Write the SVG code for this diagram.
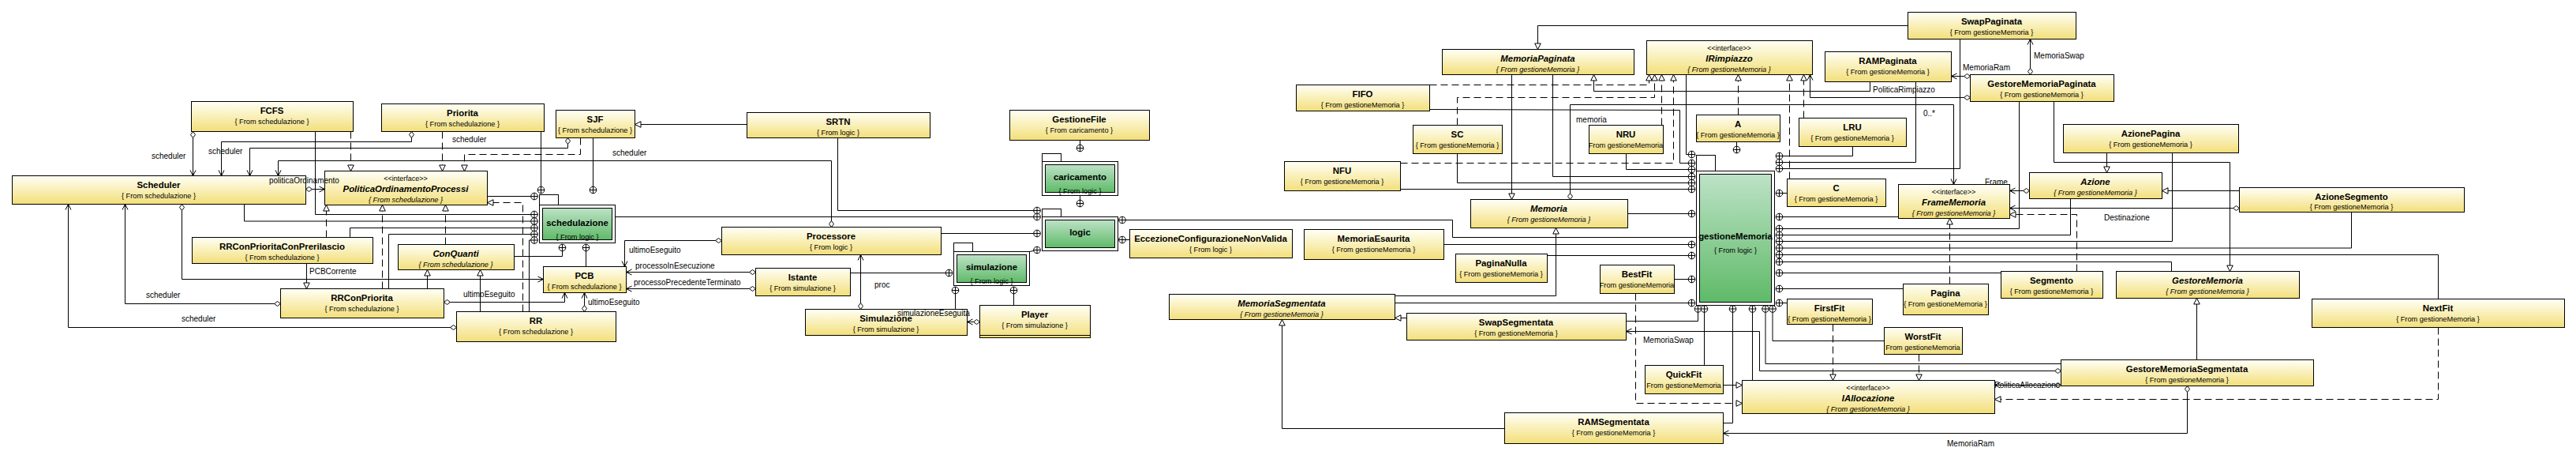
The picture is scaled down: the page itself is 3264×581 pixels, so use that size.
<svg xmlns="http://www.w3.org/2000/svg" width="3264" height="581" viewBox="0 0 3264 581">
<style>
.b{fill:url(#yg);stroke:#000;stroke-width:1}
.pw{fill:#fff;stroke:#000;stroke-width:1}
.pg{fill:url(#gg);stroke:#000;stroke-width:1}
.t{font-family:"Liberation Sans",Arial,sans-serif;font-size:11.4px;font-weight:bold;text-anchor:middle;fill:#000}
.i{font-style:italic}
.f{font-family:"Liberation Sans",Arial,sans-serif;font-size:9.2px;text-anchor:middle;fill:#000}
.st{font-family:"Liberation Sans",Arial,sans-serif;font-size:9px;text-anchor:middle;fill:#000}
.lb{font-family:"Liberation Sans",Arial,sans-serif;font-size:10px;fill:#000}
.c path{fill:none;stroke:#000;stroke-width:1}
.c path.d{stroke-dasharray:9 5}
</style>
<defs>
<linearGradient id="yg" x1="0" y1="0" x2="0" y2="1"><stop offset="0" stop-color="#fffff6"/><stop offset="1" stop-color="#f3df7a"/></linearGradient>
<linearGradient id="gg" x1="0" y1="0" x2="0" y2="1"><stop offset="0" stop-color="#bde2c6"/><stop offset="1" stop-color="#5fba68"/></linearGradient>
<marker id="ar" markerUnits="userSpaceOnUse" viewBox="0 0 10 10" markerWidth="10" markerHeight="10" refX="10" refY="5" orient="auto"><path d="M3,1.5 L10,5 L3,8.5" fill="none" stroke="#000" stroke-width="1" stroke-dasharray="none"/></marker>
<marker id="tr" markerUnits="userSpaceOnUse" viewBox="0 0 10 10" markerWidth="10" markerHeight="10" refX="10" refY="5" orient="auto"><path d="M2.5,1.2 L10,5 L2.5,8.8 Z" fill="#fff" stroke="#000" stroke-width="1" stroke-dasharray="none"/></marker>
<marker id="dm" markerUnits="userSpaceOnUse" viewBox="0 0 10 10" markerWidth="10" markerHeight="10" refX="0.5" refY="5" orient="auto"><path d="M0.5,5 L4.5,2 L8.5,5 L4.5,8 Z" fill="#fff" stroke="#000" stroke-width="1" stroke-dasharray="none"/></marker>
<g id="nest"><circle r="4.3" fill="#fff" stroke="#000" stroke-width="1"/><path d="M-4.3,0H4.3M0,-4.3V4.3" stroke="#000" stroke-width="1"/></g>
<clipPath id="k-nru"><rect x="2013" y="158" width="95" height="37"/></clipPath>
<clipPath id="k-bf"><rect x="2027" y="335" width="95" height="37"/></clipPath>
<clipPath id="k-qf"><rect x="2084" y="462" width="100" height="37"/></clipPath>
<clipPath id="k-wf"><rect x="2387" y="414" width="100" height="35"/></clipPath>
</defs>
<rect width="3264" height="581" fill="#fff"/>

<!-- packages -->
<g id="p-schedulazione"><rect class="pw" x="683.5" y="246.5" width="24" height="13"/><rect class="pw" x="683.5" y="259.5" width="96" height="48"/><rect class="pg" x="687.5" y="263.5" width="88" height="40"/><text class="t" x="731.5" y="286">schedulazione</text><text class="f" x="731.5" y="302.5">{ From logic }</text></g>
<g id="p-logic"><rect class="pw" x="1320.5" y="264.5" width="24" height="10"/><rect class="pw" x="1320.5" y="274.5" width="96" height="43"/><rect class="pg" x="1324.5" y="278.5" width="88" height="35"/><text class="t" x="1368.5" y="298">logic</text></g>
<g id="p-caricamento"><rect class="pw" x="1320.5" y="194.5" width="24" height="10"/><rect class="pw" x="1320.5" y="204.5" width="96" height="43"/><rect class="pg" x="1324.5" y="208.5" width="88" height="35"/><text class="t" x="1368.5" y="228">caricamento</text><text class="f" x="1368.5" y="245">{ From logic }</text></g>
<g id="p-simulazione"><rect class="pw" x="1208.5" y="307.5" width="24" height="11"/><rect class="pw" x="1208.5" y="318.5" width="96" height="43"/><rect class="pg" x="1212.5" y="322.5" width="88" height="35"/><text class="t" x="1256.5" y="342">simulazione</text><text class="f" x="1256.5" y="359">{ From logic }</text></g>
<g id="p-gestioneMemoria"><rect class="pw" x="2149.5" y="196.5" width="24" height="20"/><rect class="pw" x="2149.5" y="216.5" width="99" height="170"/><rect class="pg" x="2153.5" y="220.5" width="91" height="162"/><text class="t" x="2199" y="303">gestioneMemoria</text><text class="f" x="2199" y="320">{ From logic }</text></g>

<!-- class nodes -->
<g id="n-fcfs"><rect class="b" x="242.5" y="128.5" width="205" height="38"/><text class="t" x="344.5" y="144">FCFS</text><text class="f" x="344.5" y="157">{ From schedulazione }</text></g>
<g id="n-priorita"><rect class="b" x="483.5" y="131.5" width="206" height="35"/><text class="t" x="586" y="147">Priorita</text><text class="f" x="586" y="160">{ From schedulazione }</text></g>
<g id="n-sjf"><rect class="b" x="704.5" y="139.5" width="100" height="35"/><text class="t" x="754" y="155">SJF</text><text class="f" x="754" y="168">{ From schedulazione }</text></g>
<g id="n-srtn"><rect class="b" x="946.5" y="142.5" width="232" height="32"/><text class="t" x="1062" y="158">SRTN</text><text class="f" x="1062" y="171">{ From logic }</text></g>
<g id="n-scheduler"><rect class="b" x="15.5" y="222.5" width="372" height="36"/><text class="t" x="201" y="238">Scheduler</text><text class="f" x="201" y="251">{ From schedulazione }</text></g>
<g id="n-politica"><rect class="b" x="411.5" y="216.5" width="206" height="43"/><text class="st" x="514" y="229">&lt;&lt;interface&gt;&gt;</text><text class="t i" x="514" y="242.5">PoliticaOrdinamentoProcessi</text><text class="f i" x="514" y="255.5">{ From schedulazione }</text></g>
<g id="n-rrcpcp"><rect class="b" x="243.5" y="300.5" width="229" height="33"/><text class="t" x="357.5" y="316">RRConPrioritaConPrerilascio</text><text class="f" x="357.5" y="329">{ From schedulazione }</text></g>
<g id="n-rrcp"><rect class="b" x="355.5" y="365.5" width="207" height="37"/><text class="t" x="458.5" y="381">RRConPriorita</text><text class="f" x="458.5" y="394">{ From schedulazione }</text></g>
<g id="n-conquanti"><rect class="b" x="504.5" y="309.5" width="147" height="32"/><text class="t i" x="577.5" y="325">ConQuanti</text><text class="f i" x="577.5" y="338">{ From schedulazione }</text></g>
<g id="n-pcb"><rect class="b" x="688.5" y="337.5" width="105" height="33"/><text class="t" x="740.5" y="353">PCB</text><text class="f" x="740.5" y="366">{ From schedulazione }</text></g>
<g id="n-rr"><rect class="b" x="578.5" y="394.5" width="202" height="38"/><text class="t" x="679" y="410">RR</text><text class="f" x="679" y="423">{ From schedulazione }</text></g>
<g id="n-processore"><rect class="b" x="914.5" y="287.5" width="278" height="35"/><text class="t" x="1053" y="303">Processore</text><text class="f" x="1053" y="316">{ From logic }</text></g>
<g id="n-istante"><rect class="b" x="957.5" y="339.5" width="120" height="35"/><text class="t" x="1017" y="355">Istante</text><text class="f" x="1017" y="368">{ From simulazione }</text></g>
<g id="n-simulazione"><rect class="b" x="1020.5" y="391.5" width="205" height="33"/><text class="t" x="1122.5" y="407">Simulazione</text><text class="f" x="1122.5" y="420">{ From simulazione }</text></g>
<g id="n-player"><rect class="b" x="1241.5" y="386.5" width="140" height="41"/><path d="M1241.5,424.5H1381.5" stroke="#000" fill="none"/><text class="t" x="1311" y="402">Player</text><text class="f" x="1311" y="415">{ From simulazione }</text></g>
<g id="n-gestionefile"><rect class="b" x="1279.5" y="139.5" width="177" height="38"/><text class="t" x="1367.5" y="155">GestioneFile</text><text class="f" x="1367.5" y="168">{ From caricamento }</text></g>
<g id="n-eccezione"><rect class="b" x="1431.5" y="290.5" width="206" height="36"/><text class="t" x="1534" y="306">EccezioneConfigurazioneNonValida</text><text class="f" x="1534" y="319">{ From logic }</text></g>

<g id="n-memoriapaginata"><rect class="b" x="1827.5" y="62.5" width="243" height="32"/><text class="t i" x="1948.5" y="78">MemoriaPaginata</text><text class="f i" x="1948.5" y="91">{ From gestioneMemoria }</text></g>
<g id="n-irimpiazzo"><rect class="b" x="2086.5" y="51.5" width="210" height="43"/><text class="st" x="2191" y="64">&lt;&lt;interface&gt;&gt;</text><text class="t i" x="2191" y="77.5">IRimpiazzo</text><text class="f i" x="2191" y="90.5">{ From gestioneMemoria }</text></g>
<g id="n-rampaginata"><rect class="b" x="2312.5" y="65.5" width="160" height="38"/><text class="t" x="2392" y="81">RAMPaginata</text><text class="f" x="2392" y="94">{ From gestioneMemoria }</text></g>
<g id="n-swappaginata"><rect class="b" x="2417.5" y="15.5" width="213" height="34"/><text class="t" x="2523.5" y="31">SwapPaginata</text><text class="f" x="2523.5" y="44">{ From gestioneMemoria }</text></g>
<g id="n-gmp"><rect class="b" x="2496.5" y="94.5" width="182" height="34"/><text class="t" x="2587" y="110">GestoreMemoriaPaginata</text><text class="f" x="2587" y="123">{ From gestioneMemoria }</text></g>
<g id="n-fifo"><rect class="b" x="1642.5" y="107.5" width="169" height="33"/><text class="t" x="1726.5" y="123">FIFO</text><text class="f" x="1726.5" y="136">{ From gestioneMemoria }</text></g>
<g id="n-sc"><rect class="b" x="1790.5" y="158.5" width="113" height="36"/><text class="t" x="1846.5" y="174">SC</text><text class="f" x="1846.5" y="187">{ From gestioneMemoria }</text></g>
<g id="n-nfu"><rect class="b" x="1627.5" y="204.5" width="147" height="37"/><text class="t" x="1700.5" y="220">NFU</text><text class="f" x="1700.5" y="233">{ From gestioneMemoria }</text></g>
<g id="n-nru"><rect class="b" x="2013.5" y="158.5" width="94" height="36"/><text class="t" x="2060" y="174">NRU</text><text class="f" x="2060" y="187" clip-path="url(#k-nru)">{ From gestioneMemoria }</text></g>
<g id="n-a"><rect class="b" x="2149.5" y="145.5" width="106" height="34"/><text class="t" x="2202" y="161">A</text><text class="f" x="2202" y="174">{ From gestioneMemoria }</text></g>
<g id="n-lru"><rect class="b" x="2279.5" y="149.5" width="136" height="36"/><text class="t" x="2347" y="165">LRU</text><text class="f" x="2347" y="178">{ From gestioneMemoria }</text></g>
<g id="n-c"><rect class="b" x="2264.5" y="226.5" width="125" height="35"/><text class="t" x="2326.5" y="242">C</text><text class="f" x="2326.5" y="255">{ From gestioneMemoria }</text></g>
<g id="n-memoria"><rect class="b" x="1863.5" y="252.5" width="199" height="36"/><text class="t i" x="1962.5" y="268">Memoria</text><text class="f i" x="1962.5" y="281">{ From gestioneMemoria }</text></g>
<g id="n-framememoria"><rect class="b" x="2405.5" y="233.5" width="141" height="43"/><text class="st" x="2475.5" y="246">&lt;&lt;interface&gt;&gt;</text><text class="t i" x="2475.5" y="259.5">FrameMemoria</text><text class="f i" x="2475.5" y="272.5">{ From gestioneMemoria }</text></g>
<g id="n-azionepagina"><rect class="b" x="2614.5" y="157.5" width="222" height="36"/><text class="t" x="2725" y="173">AzionePagina</text><text class="f" x="2725" y="186">{ From gestioneMemoria }</text></g>
<g id="n-azione"><rect class="b" x="2571.5" y="218.5" width="168" height="33"/><text class="t i" x="2655" y="234">Azione</text><text class="f i" x="2655" y="247">{ From gestioneMemoria }</text></g>
<g id="n-azionesegmento"><rect class="b" x="2837.5" y="237.5" width="285" height="31"/><text class="t" x="2979.5" y="252.5">AzioneSegmento</text><text class="f" x="2979.5" y="265">{ From gestioneMemoria }</text></g>
<g id="n-memoriaesaurita"><rect class="b" x="1652.5" y="290.5" width="177" height="38"/><text class="t" x="1740.5" y="306">MemoriaEsaurita</text><text class="f" x="1740.5" y="319">{ From gestioneMemoria }</text></g>
<g id="n-paginanulla"><rect class="b" x="1844.5" y="321.5" width="116" height="36"/><text class="t" x="1902" y="337">PaginaNulla</text><text class="f" x="1902" y="350">{ From gestioneMemoria }</text></g>
<g id="n-memoriasegmentata"><rect class="b" x="1481.5" y="372.5" width="286" height="32"/><text class="t i" x="1624" y="388">MemoriaSegmentata</text><text class="f i" x="1624" y="401">{ From gestioneMemoria }</text></g>
<g id="n-swapsegmentata"><rect class="b" x="1782.5" y="396.5" width="278" height="34"/><text class="t" x="1921" y="412">SwapSegmentata</text><text class="f" x="1921" y="425">{ From gestioneMemoria }</text></g>
<g id="n-ramsegmentata"><rect class="b" x="1906.5" y="522.5" width="277" height="39"/><text class="t" x="2044.5" y="538">RAMSegmentata</text><text class="f" x="2044.5" y="551">{ From gestioneMemoria }</text></g>
<g id="n-bestfit"><rect class="b" x="2027.5" y="335.5" width="94" height="36"/><text class="t" x="2074" y="351">BestFit</text><text class="f" x="2074" y="364" clip-path="url(#k-bf)">{ From gestioneMemoria }</text></g>
<g id="n-firstfit"><rect class="b" x="2264.5" y="378.5" width="108" height="32"/><text class="t" x="2318" y="394">FirstFit</text><text class="f" x="2318" y="407">{ From gestioneMemoria }</text></g>
<g id="n-worstfit"><rect class="b" x="2387.5" y="414.5" width="99" height="34"/><text class="t" x="2436.5" y="430">WorstFit</text><text class="f" x="2436.5" y="443" clip-path="url(#k-wf)">{ From gestioneMemoria }</text></g>
<g id="n-quickfit"><rect class="b" x="2084.5" y="462.5" width="99" height="36"/><text class="t" x="2133.5" y="478">QuickFit</text><text class="f" x="2133.5" y="491" clip-path="url(#k-qf)">{ From gestioneMemoria }</text></g>
<g id="n-iallocazione"><rect class="b" x="2207.5" y="481.5" width="320" height="42"/><text class="st" x="2367" y="494">&lt;&lt;interface&gt;&gt;</text><text class="t i" x="2367" y="507.5">IAllocazione</text><text class="f i" x="2367" y="520.5">{ From gestioneMemoria }</text></g>
<g id="n-pagina"><rect class="b" x="2411.5" y="359.5" width="108" height="39"/><text class="t" x="2465" y="375">Pagina</text><text class="f" x="2465" y="388">{ From gestioneMemoria }</text></g>
<g id="n-segmento"><rect class="b" x="2535.5" y="343.5" width="129" height="34"/><text class="t" x="2599.5" y="359">Segmento</text><text class="f" x="2599.5" y="372">{ From gestioneMemoria }</text></g>
<g id="n-gestorememoria"><rect class="b" x="2681.5" y="343.5" width="232" height="34"/><text class="t i" x="2797" y="359">GestoreMemoria</text><text class="f i" x="2797" y="372">{ From gestioneMemoria }</text></g>
<g id="n-nextfit"><rect class="b" x="2929.5" y="378.5" width="320" height="36"/><text class="t" x="3089" y="394">NextFit</text><text class="f" x="3089" y="407">{ From gestioneMemoria }</text></g>
<g id="n-gms"><rect class="b" x="2611.5" y="455.5" width="320" height="33"/><text class="t" x="2771" y="471">GestoreMemoriaSegmentata</text><text class="f" x="2771" y="484">{ From gestioneMemoria }</text></g>

<!-- connectors -->
<g id="connectors" class="c">
<path d="M244.5,166.5V222.5" marker-start="url(#dm)" marker-end="url(#ar)"/>
<path d="M521.5,166.5V179.5H280.5V222.5" marker-start="url(#dm)" marker-end="url(#ar)"/>
<path d="M719.5,174.5V187.5H316.5V222.5" marker-start="url(#dm)" marker-end="url(#ar)"/>
<path d="M1053.5,287.5V203.5H352.5V222.5" marker-start="url(#dm)" marker-end="url(#ar)"/>
<path d="M399.5,166.5V271.5H677"/>
<path class="d" d="M444.5,166.5V216.5" marker-end="url(#tr)"/>
<path d="M387.5,239.5H411.5" marker-start="url(#dm)" marker-end="url(#ar)"/>
<path d="M309.5,258.5V280H677"/>
<path class="d" d="M413.5,300.5V259.5" marker-end="url(#tr)"/>
<path class="d" d="M484.5,365.5V259.5" marker-end="url(#tr)"/>
<path d="M443.5,300.5V288.5H677"/>
<path d="M492.5,365.5V296.5H677"/>
<path d="M230.5,258.5V353.5H688.5" marker-start="url(#dm)" marker-end="url(#ar)"/>
<path d="M388.5,333.5V365.5" marker-end="url(#tr)"/>
<path d="M355.5,384.5H158.5V258.5" marker-start="url(#dm)" marker-end="url(#ar)"/>
<path d="M578.5,414.5H86.5V258.5" marker-start="url(#dm)" marker-end="url(#ar)"/>
<path class="d" d="M560.5,166.5V216.5" marker-end="url(#tr)"/>
<path class="d" d="M735.5,174.5V195.5H588.5V216.5" marker-end="url(#tr)"/>
<path d="M685.5,166.5V240.5"/>
<path d="M751.5,174.5V240.5"/>
<path d="M617.5,248.5H677"/>
<path d="M946.5,157.5H804.5" marker-end="url(#tr)"/>
<path class="d" d="M662.5,394.5V256.5H617.5" marker-end="url(#tr)"/>
<path class="d" d="M564.5,309.5V259.5" marker-end="url(#tr)"/>
<path d="M541.5,365.5V341.5" marker-end="url(#tr)"/>
<path d="M608.5,394.5V341.5" marker-end="url(#tr)"/>
<path d="M651.5,324.5H712.5V313.5"/>
<path d="M742.5,337.5V313.5"/>
<path d="M670.5,394.5V304H677"/>
<path d="M562.5,382.5H715.5V370.5" marker-start="url(#dm)" marker-end="url(#ar)"/>
<path d="M740.5,394.5V370.5" marker-start="url(#dm)" marker-end="url(#ar)"/>
<path d="M914.5,304.5H791.5V337.5" marker-start="url(#dm)" marker-end="url(#ar)"/>
<path d="M957.5,344.5H793.5" marker-start="url(#dm)" marker-end="url(#ar)"/>
<path d="M957.5,365.5H793.5" marker-start="url(#dm)" marker-end="url(#ar)"/>
<path d="M779.5,274.5H1314"/>
<path d="M1061.5,174.5V266.5H1314"/>
<path d="M1192.5,295.5H1314"/>
<path d="M1090.5,391.5V322.5" marker-start="url(#dm)" marker-end="url(#ar)"/>
<path d="M1077.5,345.5H1202.5"/>
<path d="M1210.5,391.5V367.5"/>
<path d="M1284.5,386.5V367.5"/>
<path d="M1241.5,407.5H1225.5" marker-start="url(#dm)" marker-end="url(#ar)"/>
<path d="M1304.5,318.5L1314,316.5"/>
<path d="M1368.5,177.5V187.5"/>
<path d="M1368.5,247.5V257.5"/>
<path d="M1422,303.5H1431.5"/>
<path d="M1422,278.5H1840.5V300.5H2149.5"/>
<path d="M1829.5,309.5H2143.5"/>
<path d="M1960.5,323.5H2143.5"/>
<path d="M1767.5,374.5H1971.5V288.5" marker-end="url(#tr)"/>
<path d="M1767.5,383.5H2143.5"/>
<path d="M2121.5,353.5H2143.5"/>
<path d="M2060.5,406.5H2151.5V391"/>
<path d="M1782.5,402.5H1767.5" marker-end="url(#tr)"/>
<path d="M1906.5,542.5H1624.5V404.5" marker-end="url(#tr)"/>
<path d="M2611.5,469.5H2229.5V419.5H2060.5" marker-start="url(#dm)" marker-end="url(#ar)"/>
<path class="d" d="M2072.5,371.5V510.5H2207.5" marker-end="url(#tr)"/>
<path d="M2183.5,487.5H2207.5" marker-end="url(#tr)"/>
<path d="M2159.5,462.5V391"/>
<path d="M2183.5,535.5H2195.5V391"/>
<path d="M2771.5,488.5V548.5H2183.5" marker-start="url(#dm)" marker-end="url(#ar)"/>
<path d="M2220.5,481.5V391"/>
<path d="M2237,391V460.5H2611.5"/>
<path d="M2246,391V431.5H2387.5"/>
<path d="M2254.5,383.5H2264.5"/>
<path class="d" d="M2322.5,410.5V481.5" marker-end="url(#tr)"/>
<path class="d" d="M2431.5,448.5V481.5" marker-end="url(#tr)"/>
<path d="M2254.5,365.5H2411.5"/>
<path d="M2254.5,345.5H2535.5"/>
<path d="M2558.5,128.5V289.5H2254.5"/>
<path d="M2623.5,251.5V297.5H2254.5"/>
<path d="M2752.5,193.5V305.5H2254.5"/>
<path d="M2979.5,268.5V314H2254.5"/>
<path d="M3089.5,378.5V322.5H2254.5"/>
<path d="M2751.5,343.5V331.5H2254.5"/>
<path class="d" d="M2631.5,343.5V271.5H2546.5" marker-end="url(#tr)"/>
<path class="d" d="M2470.5,359.5V276.5" marker-end="url(#tr)"/>
<path d="M2602.5,128.5V205.5H2825.5V343.5" marker-end="url(#tr)"/>
<path d="M2783.5,455.5V377.5" marker-end="url(#tr)"/>
<path class="d" d="M3089.5,414.5V505.5H2527.5" marker-end="url(#tr)"/>
<path d="M2611.5,487.5H2527.5" marker-start="url(#dm)" marker-end="url(#ar)"/>
<path d="M2417.5,32.5H1948.5V62.5" marker-end="url(#tr)"/>
<path d="M2369.5,103.5V115.5H2019.5V94.5" marker-end="url(#tr)"/>
<path class="d" d="M1811.5,107.5H2089.5V94.5" marker-end="url(#tr)"/>
<path class="d" d="M1846.5,158.5V123.5H2096.5V94.5" marker-end="url(#tr)"/>
<path class="d" d="M2105.5,158.5V94.5" marker-end="url(#tr)"/>
<path class="d" d="M1774.5,206.5H2120.5V94.5" marker-end="url(#tr)"/>
<path class="d" d="M2202.5,145.5V94.5" marker-end="url(#tr)"/>
<path class="d" d="M2267.5,226.5V94.5" marker-end="url(#tr)"/>
<path class="d" d="M2285.5,149.5V94.5" marker-end="url(#tr)"/>
<path d="M2496.5,123.5H2293.5V94.5" marker-start="url(#dm)" marker-end="url(#ar)"/>
<path d="M2136.5,94.5V195.5H2143.5"/>
<path d="M1811.5,138.5L2128.5,139.5V206.5H2143.5"/>
<path d="M2060.5,194.5V214.5H2143.5"/>
<path d="M1967.5,94.5V223.5H2143.5"/>
<path d="M1846.5,194.5V231.5H2143.5"/>
<path d="M1774.5,239.5H2143.5"/>
<path d="M2062.5,270.5H2143.5"/>
<path d="M1915.5,94.5V252.5" marker-end="url(#tr)"/>
<path d="M1989.5,252.5V132.5H2475.5V233.5" marker-start="url(#dm)" marker-end="url(#ar)"/>
<path d="M2347.5,185.5V197.5H2254.5"/>
<path d="M2427.5,103.5V205.5H2254.5"/>
<path d="M2483.5,49.5V213.5H2254.5"/>
<path d="M2254.5,244.5H2264.5"/>
<path d="M2254.5,274.5H2405.5"/>
<path d="M2200.5,179.5V189.5"/>
<path d="M2572.5,94.5V49.5" marker-start="url(#dm)" marker-end="url(#ar)"/>
<path d="M2496.5,96.5H2472.5" marker-start="url(#dm)" marker-end="url(#ar)"/>
<path d="M2571.5,241.5H2546.5" marker-start="url(#dm)" marker-end="url(#ar)"/>
<path d="M2837.5,263.5H2546.5" marker-start="url(#dm)" marker-end="url(#ar)"/>
<path d="M2837.5,241.5H2739.5" marker-end="url(#tr)"/>
<path d="M2669.5,193.5V218.5" marker-end="url(#tr)"/>
<!-- nesting symbols -->
<use href="#nest" x="677" y="248.5"/><use href="#nest" x="685.5" y="240.5"/><use href="#nest" x="751.5" y="240.5"/>
<use href="#nest" x="677" y="271.5"/><use href="#nest" x="677" y="280"/><use href="#nest" x="677" y="288.5"/><use href="#nest" x="677" y="296.5"/><use href="#nest" x="677" y="304"/>
<use href="#nest" x="712.5" y="313.5"/><use href="#nest" x="742.5" y="313.5"/>
<use href="#nest" x="1314" y="266.5"/><use href="#nest" x="1314" y="274.5"/><use href="#nest" x="1314" y="295.5"/><use href="#nest" x="1314" y="316.5"/>
<use href="#nest" x="1368.5" y="187.5"/><use href="#nest" x="1368.5" y="257.5"/>
<use href="#nest" x="1202.5" y="345.5"/><use href="#nest" x="1210.5" y="367.5"/><use href="#nest" x="1284.5" y="367.5"/>
<use href="#nest" x="1422" y="278.5"/><use href="#nest" x="1422" y="303.5"/>
<use href="#nest" x="2143.5" y="195.5"/><use href="#nest" x="2143.5" y="206.5"/><use href="#nest" x="2143.5" y="214.5"/><use href="#nest" x="2143.5" y="223.5"/><use href="#nest" x="2143.5" y="231.5"/><use href="#nest" x="2143.5" y="239.5"/><use href="#nest" x="2143.5" y="270.5"/><use href="#nest" x="2143.5" y="309.5"/><use href="#nest" x="2143.5" y="323.5"/><use href="#nest" x="2143.5" y="353.5"/><use href="#nest" x="2143.5" y="383.5"/>
<use href="#nest" x="2151.5" y="391"/><use href="#nest" x="2159.5" y="391"/><use href="#nest" x="2195.5" y="391"/><use href="#nest" x="2220.5" y="391"/><use href="#nest" x="2237" y="391"/><use href="#nest" x="2246" y="391"/>
<use href="#nest" x="2254.5" y="197.5"/><use href="#nest" x="2254.5" y="205.5"/><use href="#nest" x="2254.5" y="213.5"/><use href="#nest" x="2254.5" y="244.5"/><use href="#nest" x="2254.5" y="274.5"/><use href="#nest" x="2254.5" y="289.5"/><use href="#nest" x="2254.5" y="297.5"/><use href="#nest" x="2254.5" y="305.5"/><use href="#nest" x="2254.5" y="314"/><use href="#nest" x="2254.5" y="322.5"/><use href="#nest" x="2254.5" y="331.5"/><use href="#nest" x="2254.5" y="345.5"/><use href="#nest" x="2254.5" y="365.5"/><use href="#nest" x="2254.5" y="383.5"/>
<use href="#nest" x="2200.5" y="189.5"/>
<!-- labels -->
<text class="lb" x="192" y="200.5">scheduler</text>
<text class="lb" x="264" y="194.5">scheduler</text>
<text class="lb" x="573" y="180">scheduler</text>
<text class="lb" x="776" y="197">scheduler</text>
<text class="lb" x="185" y="377">scheduler</text>
<text class="lb" x="230" y="407">scheduler</text>
<text class="lb" x="341" y="232">politicaOrdinamento</text>
<text class="lb" x="392" y="347">PCBCorrente</text>
<text class="lb" x="587" y="376">ultimoEseguito</text>
<text class="lb" x="745" y="386">ultimoEseguito</text>
<text class="lb" x="797" y="320">ultimoEseguito</text>
<text class="lb" x="805" y="340">processoInEsecuzione</text>
<text class="lb" x="803" y="360.5">processoPrecedenteTerminato</text>
<text class="lb" x="1108" y="363.5">proc</text>
<text class="lb" x="1137" y="400">simulazioneEseguita</text>
<text class="lb" x="2082" y="434">MemoriaSwap</text>
<text class="lb" x="2467" y="564.5">MemoriaRam</text>
<text class="lb" x="2527" y="490.5">PoliticaAllocazione</text>
<text class="lb" x="1997" y="154.5">memoria</text>
<text class="lb" x="2437" y="147">0..*</text>
<text class="lb" x="2373" y="117">PoliticaRimpiazzo</text>
<text class="lb" x="2577" y="74">MemoriaSwap</text>
<text class="lb" x="2487" y="89">MemoriaRam</text>
<text class="lb" x="2515" y="233.5">Frame</text>
<text class="lb" x="2666" y="279">Destinazione</text>
</g>
</svg>
